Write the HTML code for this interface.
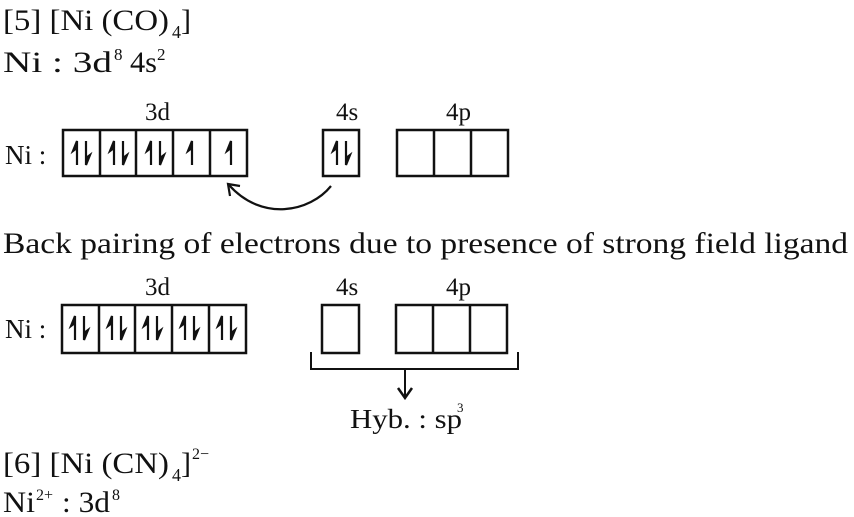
<!DOCTYPE html>
<html><head><meta charset="utf-8"><style>
html,body{margin:0;padding:0;background:#fff;}
svg{display:block;}
text{font-family:"Liberation Serif",serif;fill:#111;}
</style></head><body>
<svg width="854" height="517" viewBox="0 0 854 517" xmlns="http://www.w3.org/2000/svg">
<defs>
<g id="up"><path d="M0,24 V2 M0,0 L-4,10 L0,7 Z" stroke="#111" stroke-width="2.2" fill="#111"/></g>
<g id="dn"><path d="M0,0 V22 M0,24 L4,14 L0,17 Z" stroke="#111" stroke-width="2.2" fill="#111"/></g>
</defs>
<text x="3" y="30" font-size="30" textLength="166" lengthAdjust="spacingAndGlyphs">[5] [Ni (CO)</text>
<text x="172" y="38" font-size="18">4</text>
<text x="181" y="30" font-size="30">]</text>
<text x="3" y="72" font-size="30" textLength="109" lengthAdjust="spacingAndGlyphs">Ni : 3d</text>
<text x="114" y="60" font-size="17">8</text>
<text x="130" y="72" font-size="30" textLength="27" lengthAdjust="spacingAndGlyphs">4s</text>
<text x="157" y="60" font-size="17">2</text>

<text x="145" y="120" font-size="25">3d</text>
<text x="336" y="120" font-size="25">4s</text>
<text x="446" y="120" font-size="25">4p</text>
<text x="5" y="164" font-size="27">Ni :</text>
<g fill="none" stroke="#111" stroke-width="2.5">
<rect x="63" y="130" width="184" height="46"/>
<line x1="100" y1="130" x2="100" y2="176"/><line x1="136" y1="130" x2="136" y2="176"/><line x1="173" y1="130" x2="173" y2="176"/><line x1="210" y1="130" x2="210" y2="176"/>
<rect x="323" y="130" width="36" height="46"/>
<rect x="397" y="130" width="111" height="46"/>
<line x1="434" y1="130" x2="434" y2="176"/><line x1="471" y1="130" x2="471" y2="176"/>
</g>
<use href="#up" x="77" y="141"/><use href="#dn" x="86" y="141"/>
<use href="#up" x="114" y="141"/><use href="#dn" x="123" y="141"/>
<use href="#up" x="151" y="141"/><use href="#dn" x="160" y="141"/>
<use href="#up" x="192" y="141"/>
<use href="#up" x="231" y="141"/>
<use href="#up" x="337" y="141"/><use href="#dn" x="346" y="141"/>
<path d="M331,186 C310,212 262,222 229,185" fill="none" stroke="#111" stroke-width="2.2"/>
<path d="M230,196 L228,184 L240,186" fill="none" stroke="#111" stroke-width="2.2"/>

<text x="3" y="253" font-size="30" textLength="845" lengthAdjust="spacingAndGlyphs">Back pairing of electrons due to presence of strong field ligand</text>

<text x="145" y="295" font-size="25">3d</text>
<text x="336" y="295" font-size="25">4s</text>
<text x="446" y="295" font-size="25">4p</text>
<text x="5" y="338" font-size="27">Ni :</text>
<g fill="none" stroke="#111" stroke-width="2.5">
<rect x="62" y="305" width="184" height="48"/>
<line x1="99" y1="305" x2="99" y2="353"/><line x1="135" y1="305" x2="135" y2="353"/><line x1="172" y1="305" x2="172" y2="353"/><line x1="209" y1="305" x2="209" y2="353"/>
<rect x="322" y="305" width="37" height="48"/>
<rect x="396" y="305" width="111" height="48"/>
<line x1="433" y1="305" x2="433" y2="353"/><line x1="470" y1="305" x2="470" y2="353"/>
<path d="M311,352 V369 H518 V352 M405,369 V397" stroke-width="2"/>
<path d="M398,388 L405,398 L412,388" stroke-width="2.5"/>
</g>
<use href="#up" x="75" y="316"/><use href="#dn" x="84" y="316"/>
<use href="#up" x="112" y="316"/><use href="#dn" x="121" y="316"/>
<use href="#up" x="148" y="316"/><use href="#dn" x="157" y="316"/>
<use href="#up" x="185" y="316"/><use href="#dn" x="194" y="316"/>
<use href="#up" x="222" y="316"/><use href="#dn" x="231" y="316"/>
<text x="350" y="428" font-size="27" textLength="112" lengthAdjust="spacingAndGlyphs">Hyb. : sp</text>
<text x="457" y="412" font-size="13">3</text>

<text x="3" y="473" font-size="30" textLength="166" lengthAdjust="spacingAndGlyphs">[6] [Ni (CN)</text>
<text x="172" y="481" font-size="18">4</text>
<text x="181" y="473" font-size="30">]</text>
<text x="192" y="459" font-size="16">2−</text>
<text x="3" y="512" font-size="30" textLength="32" lengthAdjust="spacingAndGlyphs">Ni</text>
<text x="36" y="500" font-size="16">2+</text>
<text x="62" y="512" font-size="30" textLength="48" lengthAdjust="spacingAndGlyphs">: 3d</text>
<text x="112" y="500" font-size="16">8</text>
</svg>
</body></html>
